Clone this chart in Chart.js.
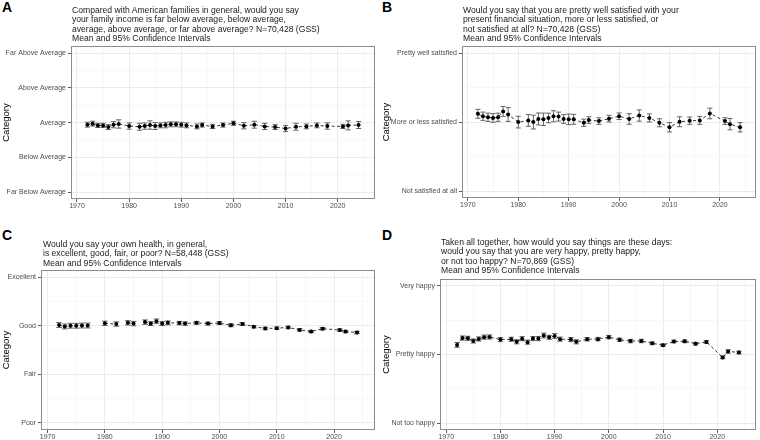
<!DOCTYPE html>
<html>
<head>
<meta charset="utf-8">
<script src="https://cdn.jsdelivr.net/npm/chart.js@4.4.1/dist/chart.umd.min.js"></script>
<style>
body{margin:0;background:#fff;width:760px;height:440px;position:relative;overflow:hidden;font-family:"Liberation Sans",Arial,sans-serif;}
canvas{position:absolute;}
.ttl{position:absolute;font-size:8.6px;line-height:9.3px;color:#1a1a1a;white-space:pre;z-index:2;}
.tag{position:absolute;font-size:14px;line-height:14px;font-weight:bold;color:#000;z-index:2;}
</style>
</head>
<body>
<canvas id="chartA" width="380" height="175" style="left:0;top:40px"></canvas>
<canvas id="chartB" width="380" height="175" style="left:380px;top:40px"></canvas>
<canvas id="chartC" width="380" height="178" style="left:0;top:262px"></canvas>
<canvas id="chartD" width="380" height="170" style="left:380px;top:270px"></canvas>

<div class="tag" style="left:2px;top:0">A</div>
<div class="tag" style="left:382px;top:0">B</div>
<div class="tag" style="left:2px;top:228px">C</div>
<div class="tag" style="left:382px;top:228px">D</div>

<div class="ttl" style="left:72px;top:6px">Compared with American families in general, would you say
your family income is far below average, below average,
average, above average, or far above average? N=70,428 (GSS)
Mean and 95% Confidence Intervals</div>
<div class="ttl" style="left:463px;top:6px">Would you say that you are pretty well satisfied with your
present financial situation, more or less satisfied, or
not satisfied at all? N=70,428 (GSS)
Mean and 95% Confidence Intervals</div>
<div class="ttl" style="left:43px;top:240px">Would you say your own health, in general,
is excellent, good, fair, or poor? N=58,448 (GSS)
Mean and 95% Confidence Intervals</div>
<div class="ttl" style="left:441px;top:238px">Taken all together, how would you say things are these days:
would you say that you are very happy, pretty happy,
or not too happy? N=70,869 (GSS)
Mean and 95% Confidence Intervals</div>

<script>
// survey years
var years = [1972,1973,1974,1975,1976,1977,1978,1980,1982,1983,1984,1985,1986,1987,1988,1989,1990,1991,
    1993,1994,1996,1998,2000,2002,2004,2006,2008,2010,2012,2014,2016,2018,2021,2022,2024];
var xTicks = [1970,1975,1980,1985,1990,1995,2000,2005,2010,2015,2020,2025];

// A - family income
var incomeCats = ['Far Below Average','Below Average','Average','Above Average','Far Above Average'];
var incomeMean = [2.94,2.97,2.92,2.92,2.87,2.94,2.96,2.90,2.88,2.90,2.93,2.90,2.92,2.93,2.95,2.95,2.94,2.92,
    2.89,2.93,2.89,2.93,2.98,2.91,2.94,2.89,2.87,2.83,2.88,2.89,2.92,2.90,2.89,2.92,2.93];
var incomeCI = [0.07,0.07,0.06,0.06,0.07,0.09,0.12,0.09,0.10,0.09,0.12,0.10,0.07,0.08,0.07,0.07,0.07,0.07,
    0.07,0.06,0.06,0.06,0.06,0.09,0.10,0.09,0.07,0.09,0.10,0.07,0.07,0.09,0.06,0.13,0.10];

// B - financial satisfaction
var satfinCats = ['Not satisfied at all','More or less satisfied','Pretty well satisfied'];
var satfinMean = [2.12,2.085,2.07,2.06,2.07,2.155,2.11,2.0,2.025,2.0,2.045,2.04,2.06,2.085,2.08,2.045,2.04,2.04,
    1.99,2.03,2.015,2.05,2.085,2.045,2.095,2.06,1.99,1.925,2.005,2.02,2.025,2.125,2.015,1.97,1.925];
var satfinCI = [0.065,0.06,0.06,0.063,0.06,0.072,0.1,0.085,0.085,0.1,0.087,0.09,0.07,0.08,0.065,0.063,0.077,0.072,
    0.053,0.048,0.048,0.048,0.048,0.077,0.082,0.058,0.058,0.068,0.072,0.053,0.058,0.077,0.048,0.082,0.068];

// C - health (not asked in 1978, 1983, 1986)
var healthCats = ['Poor','Fair','Good','Excellent'];
var healthMean = [3.015,2.985,3.0,3.0,3.005,3.005,null,3.05,3.035,null,3.06,3.045,null,3.075,3.045,3.095,3.045,3.06,
    3.055,3.045,3.06,3.045,3.055,3.01,3.035,2.98,2.945,2.95,2.965,2.915,2.88,2.94,2.91,2.88,2.86];
var healthCI = [0.05,0.05,0.05,0.05,0.05,0.05,null,0.045,0.045,null,0.045,0.045,null,0.045,0.04,0.045,0.04,0.04,
    0.035,0.035,0.03,0.03,0.03,0.03,0.03,0.025,0.025,0.025,0.025,0.025,0.025,0.025,0.025,0.025,0.025];

// D - happiness
var happyCats = ['Not too happy','Pretty happy','Very happy'];
var happyMean = [2.14,2.24,2.235,2.197,2.227,2.253,2.255,2.217,2.222,2.185,2.231,2.18,2.232,2.232,2.277,2.25,2.27,2.224,
    2.217,2.185,2.222,2.224,2.253,2.214,2.195,2.197,2.163,2.136,2.19,2.192,2.158,2.183,1.958,2.045,2.03];
var happyCI = [0.035,0.03,0.03,0.03,0.03,0.03,0.03,0.03,0.03,0.03,0.03,0.03,0.03,0.03,0.035,0.03,0.035,0.03,
    0.03,0.03,0.025,0.025,0.025,0.025,0.025,0.025,0.02,0.02,0.02,0.02,0.02,0.02,0.02,0.025,0.02];

var FONT = '"Liberation Sans", Arial, sans-serif';

// error bars under the points, grey frame on top
var errorBars = {
    id: 'errorBars',
    beforeDatasetsDraw: function (chart, args, opts) {
        var xs = chart.scales.x, ys = chart.scales.y, ctx = chart.ctx;
        ctx.save();
        ctx.strokeStyle = '#555';
        ctx.lineWidth = 0.9;
        for (var i = 0; i < years.length; i++) {
            var m = opts.mean[i], c = opts.ci[i];
            if (m === null) continue;
            var x = xs.getPixelForValue(years[i]);
            var xl = xs.getPixelForValue(years[i] - 0.5), xr = xs.getPixelForValue(years[i] + 0.5);
            var lo = ys.getPixelForValue(m - c), hi = ys.getPixelForValue(m + c);
            ctx.beginPath();
            ctx.moveTo(x, lo); ctx.lineTo(x, hi);
            ctx.moveTo(xl, lo); ctx.lineTo(xr, lo);
            ctx.moveTo(xl, hi); ctx.lineTo(xr, hi);
            ctx.stroke();
        }
        ctx.restore();
    },
    afterDraw: function (chart) {
        var a = chart.chartArea, ctx = chart.ctx;
        ctx.save();
        ctx.strokeStyle = '#8c8c8c';
        ctx.lineWidth = 1;
        ctx.strokeRect(Math.round(a.left) + 0.5, Math.round(a.top) + 0.5,
            Math.round(a.right - a.left) - 1, Math.round(a.bottom - a.top) - 1);
        ctx.restore();
    }
};

function isMajorX(v) { return v % 10 === 0; }
function isMajorY(v) { return Number.isInteger(v); }

function makePanel(id, cats, mean, ci, yPad, p) {
    var pts = years.map(function (y, i) { return {x: y, y: mean[i]}; });
    var n = cats.length;
    var yTicks = [];
    for (var v = 1; v <= n; v += 0.5) yTicks.push(v);

    return new Chart(document.getElementById(id), {
        type: 'line',
        data: {
            datasets: [{
                data: pts,
                borderColor: '#000',
                borderWidth: 0.8,
                borderDash: [3, 2.5],
                pointRadius: 2,
                pointBackgroundColor: '#000',
                pointBorderWidth: 0,
                spanGaps: false,
                tension: 0
            }]
        },
        options: {
            responsive: false,
            devicePixelRatio: 1,
            animation: false,
            layout: {padding: {top: p.top, right: p.right, left: 0, bottom: 0}},
            plugins: {
                legend: {display: false},
                tooltip: {enabled: false},
                errorBars: {mean: mean, ci: ci}
            },
            scales: {
                x: {
                    type: 'linear',
                    min: 1968.85,
                    max: 2027.15,
                    afterBuildTicks: function (s) { s.ticks = xTicks.map(function (v) { return {value: v}; }); },
                    afterFit: function (s) { s.height = p.xh; },
                    border: {display: false},
                    grid: {
                        color: function (c) { return c.tick && isMajorX(c.tick.value) ? '#EBEBEB' : '#F4F4F4'; },
                        lineWidth: function (c) { return c.tick && isMajorX(c.tick.value) ? 1 : 0.6; },
                        tickColor: function (c) { return c.tick && isMajorX(c.tick.value) ? '#333' : 'rgba(0,0,0,0)'; },
                        tickLength: 3,
                        tickWidth: 0.8
                    },
                    ticks: {
                        autoSkip: false,
                        maxRotation: 0,
                        padding: 0,
                        color: '#4D4D4D',
                        font: {family: FONT, size: 7},
                        callback: function (v) { return isMajorX(v) ? String(v) : ''; }
                    }
                },
                y: {
                    type: 'linear',
                    min: 1 - yPad,
                    max: n + yPad,
                    afterBuildTicks: function (s) { s.ticks = yTicks.map(function (v) { return {value: v}; }); },
                    afterFit: function (s) { s.width = p.yw; },
                    border: {display: false},
                    title: {
                        display: true,
                        text: 'Category',
                        color: '#000',
                        font: {family: FONT, size: 9.5},
                        padding: {top: 1, bottom: 0}
                    },
                    grid: {
                        color: function (c) { return c.tick && isMajorY(c.tick.value) ? '#EBEBEB' : '#F4F4F4'; },
                        lineWidth: function (c) { return c.tick && isMajorY(c.tick.value) ? 1 : 0.6; },
                        tickColor: function (c) { return c.tick && isMajorY(c.tick.value) ? '#333' : 'rgba(0,0,0,0)'; },
                        tickLength: 3,
                        tickWidth: 0.8
                    },
                    ticks: {
                        autoSkip: false,
                        padding: 2,
                        color: '#4D4D4D',
                        font: {family: FONT, size: 7},
                        callback: function (v) { return isMajorY(v) ? cats[v - 1] : ''; }
                    }
                }
            }
        },
        plugins: [errorBars]
    });
}

makePanel('chartA', incomeCats, incomeMean, incomeCI, 0.2, {yw: 71, top: 6, right: 5, xh: 16});
makePanel('chartB', satfinCats, satfinMean, satfinCI, 0.1, {yw: 82, top: 6, right: 2, xh: 17});
makePanel('chartC', healthCats, healthMean, healthCI, 0.15, {yw: 41, top: 8, right: 5, xh: 10});
makePanel('chartD', happyCats, happyMean, happyCI, 0.1, {yw: 60, top: 9, right: 2, xh: 10});
</script>
</body>
</html>
